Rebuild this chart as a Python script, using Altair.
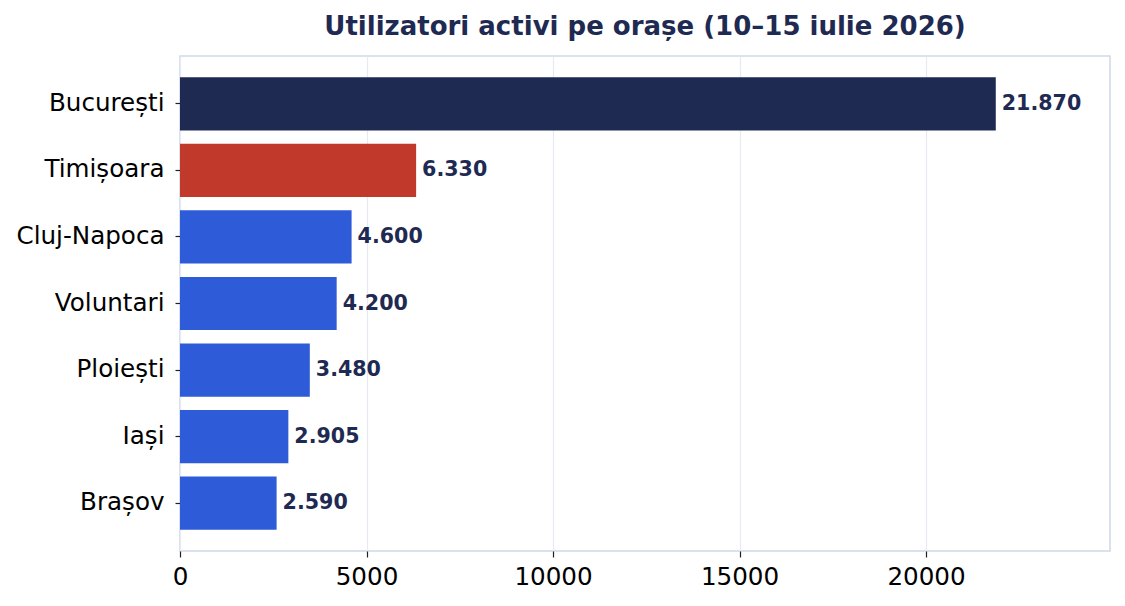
import altair as alt
import pandas as pd

cities = ["București", "Timișoara", "Cluj-Napoca", "Voluntari", "Ploiești", "Iași", "Brașov"]
values = [21870, 6330, 4600, 4200, 3480, 2905, 2590]
colors = ["#1f2a52", "#c0392b", "#2e5bd8", "#2e5bd8", "#2e5bd8", "#2e5bd8", "#2e5bd8"]
x_ticks = [0, 5000, 10000, 15000, 20000]
x_max = 24932
title = "Utilizatori activi pe orașe (10–15 iulie 2026)"

labels = [f"{v:,}".replace(",", ".") for v in values]
df = pd.DataFrame({"city": cities, "value": values, "color": colors, "label": labels})

font = "DejaVu Sans"

base = alt.Chart(df).encode(
    y=alt.Y(
        "city:N",
        sort=cities,
        scale=alt.Scale(paddingInner=0.2, paddingOuter=0.32),
        axis=alt.Axis(
            title=None,
            labelFont=font,
            labelFontSize=24.6,
            labelColor="#000000",
            tickColor="#222222",
            tickSize=5,
            tickWidth=1.2,
            labelPadding=11,
            domain=False,
            grid=False,
        ),
    ),
    x=alt.X(
        "value:Q",
        scale=alt.Scale(domain=[0, x_max], nice=False, zero=True),
        axis=alt.Axis(
            title=None,
            values=x_ticks,
            format="d",
            labelFont=font,
            labelFontSize=24.6,
            labelColor="#000000",
            labelFlush=False,
            tickColor="#222222",
            tickSize=6,
            tickWidth=1.2,
            labelPadding=8,
            domain=False,
            grid=True,
            gridColor="#e6eaf5",
            gridWidth=1.2,
        ),
    ),
)

bars = base.mark_bar().encode(color=alt.Color("color:N", scale=None))

text = base.mark_text(
    align="left",
    baseline="middle",
    dx=6,
    font=font,
    fontSize=20.6,
    fontWeight="bold",
    color="#1f2a52",
).encode(text="label:N")

chart = (
    alt.layer(bars, text)
    .properties(
        width=930,
        height=495,
        title=alt.TitleParams(
            title,
            font=font,
            fontSize=26,
            fontWeight="bold",
            color="#1f2a52",
            anchor="middle",
            offset=16,
        ),
        autosize=alt.AutoSizeParams(type="none"),
        padding={"left": 172, "top": 48, "right": 7, "bottom": 47},
        background="#ffffff",
    )
    .configure_view(stroke="#cfd8e8", strokeWidth=1.5)
)

chart.save("out.html", embed_options={"renderer": "svg", "actions": False})
